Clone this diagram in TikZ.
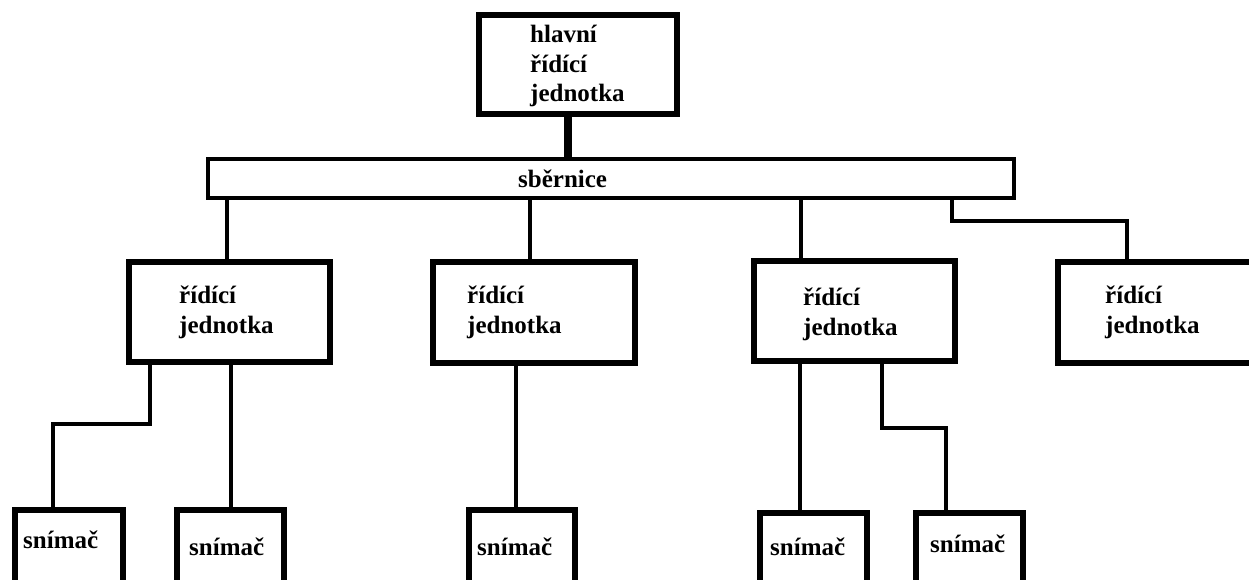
\documentclass[tikz,border=0pt]{standalone}
\usepackage{fontspec}
\setmainfont{Liberation Serif}
\begin{document}
\begin{tikzpicture}[x=1pt,y=-1pt,
  box/.style={draw,line width=6pt,inner sep=0pt,outer sep=0pt},
  busbox/.style={draw,line width=4pt,inner sep=0pt,outer sep=0pt},
  conn/.style={line width=3.5pt},
  thickconn/.style={line width=8pt},
  lbl/.style={anchor=base west,inner sep=0pt,font=\fontsize{25}{30}\selectfont\bfseries}]
\useasboundingbox (0,0) rectangle (1249,580);
\clip (0,0) rectangle (1249,580);
% boxes
\node[box,minimum width=198,minimum height=99] (top) at (578,64.5) {};
\node[busbox,minimum width=806,minimum height=39] (bus) at (611,178.5) {};
\node[box,minimum width=201,minimum height=100] (b1) at (229.5,312) {};
\node[box,minimum width=202,minimum height=101] (b2) at (534,312.5) {};
\node[box,minimum width=201,minimum height=100] (b3) at (854.5,311) {};
\node[box,minimum width=202,minimum height=101] (b4) at (1159,312.5) {};
\node[box,minimum width=108,minimum height=90] (s1) at (69,555) {};
\node[box,minimum width=107,minimum height=90] (s2) at (230.5,555) {};
\node[box,minimum width=106,minimum height=90] (s3) at (522,555) {};
\node[box,minimum width=107,minimum height=90] (s4) at (813.5,558) {};
\node[box,minimum width=107,minimum height=90] (s5) at (969.5,558) {};
% texts
\node[lbl] (t1) at (530,43) {hlavní};
\node[lbl] (t2) at (530,73) {řídící};
\node[lbl] (t3) at (530,102) {jednotka};
\node[lbl] (tb) at (518,187) {sběrnice};
\node[lbl] (a1) at (179,303) {řídící};
\node[lbl] (a2) at (179,333) {jednotka};
\node[lbl] (c1) at (467,303) {řídící};
\node[lbl] (c2) at (467,333) {jednotka};
\node[lbl] (d1) at (803,305) {řídící};
\node[lbl] (d2) at (803,335) {jednotka};
\node[lbl] (e1) at (1105,303) {řídící};
\node[lbl] (e2) at (1105,333) {jednotka};
\node[lbl] (n1) at (23,548) {snímač};
\node[lbl] (n2) at (189,555) {snímač};
\node[lbl] (n3) at (477,555) {snímač};
\node[lbl] (n4) at (770,555) {snímač};
\node[lbl] (n5) at (930,552) {snímač};
% connectors
\draw[thickconn] (top.south -| 568,0) -- (bus.north -| 568,0);
\draw[conn] (bus.south -| 227,0) -- (b1.north -| 227,0);
\draw[conn] (bus.south -| 530,0) -- (b2.north -| 530,0);
\draw[conn] (bus.south -| 801,0) -- (b3.north -| 801,0);
\draw[conn] (bus.south -| 952,0) |- (1127,221) -- (b4.north -| 1127,0);
\draw[conn] (b1.south -| 150,0) |- (53,424) -- (s1.north -| 53,0);
\draw[conn] (b1.south -| 231,0) -- (s2.north -| 231,0);
\draw[conn] (b2.south -| 516,0) -- (s3.north -| 516,0);
\draw[conn] (b3.south -| 800,0) -- (s4.north -| 800,0);
\draw[conn] (b3.south -| 882,0) |- (946,428) -- (s5.north -| 946,0);
\end{tikzpicture}
\end{document}
